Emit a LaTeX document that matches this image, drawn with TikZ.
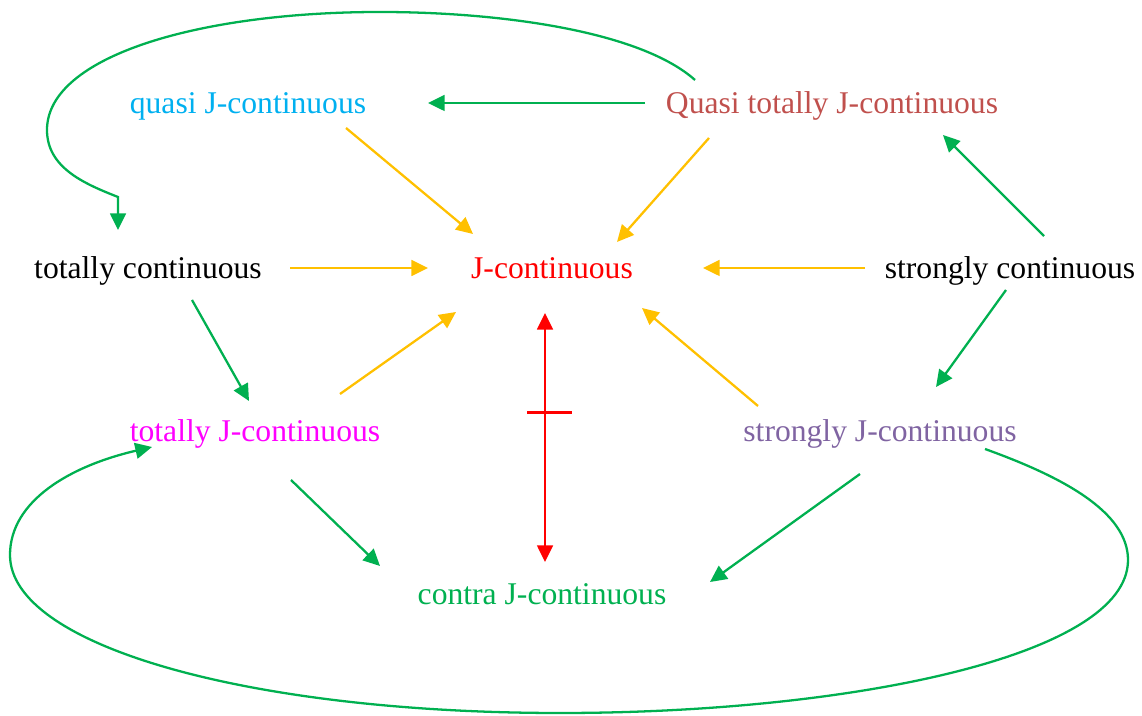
\documentclass[tikz,border=0pt]{standalone}
\usepackage{fontspec}
\setmainfont{Liberation Serif}
\usepackage{tikz}
\usetikzlibrary{arrows.meta,positioning,calc}
\usepackage{xcolor}
\definecolor{impgreen}{RGB}{0,176,80}
\definecolor{wkyellow}{RGB}{255,192,0}
\definecolor{quasicol}{RGB}{0,176,240}
\definecolor{qtotcol}{RGB}{192,80,77}
\definecolor{strjcol}{RGB}{128,100,162}
\definecolor{totjcol}{RGB}{255,0,255}
\tikzset{
  cls/.style={inner sep=0pt,text height=16.4pt,text depth=4.5pt,
              font=\fontsize{18}{22}\selectfont},
  imp/.style={-{Triangle[length=9.5pt,width=9pt]},draw=impgreen,line width=1.3pt},
  wk/.style={-{Triangle[length=9.5pt,width=9pt]},draw=wkyellow,line width=1.3pt},
  nimp/.style={{Triangle[length=9.5pt,width=9pt]}-{Triangle[length=9.5pt,width=9pt]},
               draw=red,line width=1.3pt},
}

\begin{document}
\begin{tikzpicture}[x=0.02cm,y=0.02cm]
  \useasboundingbox (0,0) rectangle (1142,716);
  % the classes
  \node[cls,text=quasicol] (quasiJ)  at (248,613) {quasi J-continuous};
  \node[cls,text=qtotcol]  (qtotJ)   at (832,613) {Quasi totally J-continuous};
  \node[cls]               (totc)    at (148,448) {totally continuous};
  \node[cls,text=red]      (Jc)      at (552,448) {J-continuous};
  \node[cls]               (strc)    at (1010,448) {strongly continuous};
  \node[cls,text=totjcol]  (totJ)    at (255,285) {totally J-continuous};
  \node[cls,text=strjcol]  (strJ)    at (880,285) {strongly J-continuous};
  \node[cls,text=impgreen] (contraJ) at (542,122) {contra J-continuous};
  % implications into J-continuous
  \draw[wk] ([shift={(98,-25)}]quasiJ.center) -- ([shift={(-79,34)}]Jc.center);
  \draw[wk] ([shift={(-123,-35)}]qtotJ.center) -- ([shift={(65,26)}]Jc.center);
  \draw[wk] ([shift={(142,0)}]totc.center) -- ([shift={(-124,0)}]Jc.center);
  \draw[wk] ([shift={(-145,0)}]strc.center) -- ([shift={(151,0)}]Jc.center);
  \draw[wk] ([shift={(85,37)}]totJ.center) -- ([shift={(-96,-44)}]Jc.center);
  \draw[wk] ([shift={(-122,25)}]strJ.center) -- ([shift={(90,-40)}]Jc.center);
  % the other implications
  \draw[imp] ([shift={(-187,0)}]qtotJ.center) -- ([shift={(180,0)}]quasiJ.center);
  \draw[imp] ([shift={(34,32)}]strc.center) -- ([shift={(111,-32)}]qtotJ.center);
  \draw[imp] ([shift={(-4,-22)}]strc.center) -- ([shift={(56,44)}]strJ.center);
  \draw[imp] ([shift={(44,-32)}]totc.center) -- ([shift={(-6,30)}]totJ.center);
  \draw[imp] ([shift={(36,-49)}]totJ.center) -- ([shift={(-162,28)}]contraJ.center);
  \draw[imp] ([shift={(-20,-43)}]strJ.center) -- ([shift={(168,12)}]contraJ.center);
  % no implication either way
  \draw[nimp] ([shift={(-7,-45)}]Jc.center) -- coordinate[pos=0.4] (tick)
    ([shift={(3,32)}]contraJ.center);
  \draw[red,line width=1.3pt] ([xshift=-18*0.02cm]tick) -- ([xshift=27*0.02cm]tick);
  % the loops
  \draw[imp] ([shift={(-137,23)}]qtotJ.center)
    .. controls (640,685) and (500,704) .. (380,704)
    .. controls (200,704) and (47,660) .. (47,586)
    .. controls (47,548) and (85,532) .. ([shift={(-30,71)}]totc.center)
    -- ([shift={(-30,38)}]totc.center);
  \draw[imp] ([shift={(105,-18)}]strJ.center)
    .. controls (1060,240) and (1128,205) .. (1128,156)
    .. controls (1128,60) and (850,3) .. (560,3)
    .. controls (250,3) and (10,70) .. (10,161)
    .. controls (10,215) and (70,250) .. ([shift={(-103,-16)}]totJ.center);
\end{tikzpicture}
\end{document}
